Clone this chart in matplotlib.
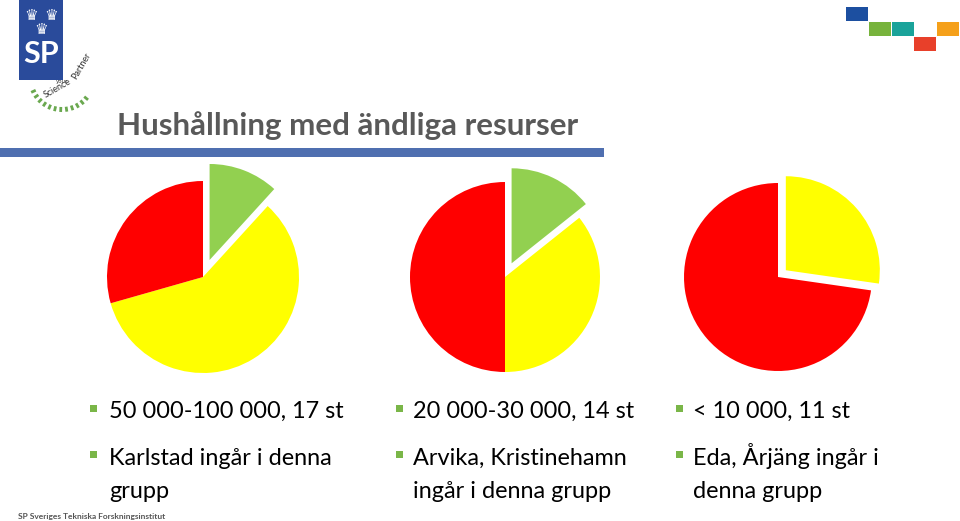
import numpy as np
import matplotlib.pyplot as plt
from matplotlib.patches import Rectangle

# --- data (antal kommuner per färg) ---
labels = ["Grön", "Gul", "Röd"]
group_big = [2, 10, 5]      # 50 000-100 000, 17 st
group_mid = [2, 5, 7]       # 20 000-30 000, 14 st
group_small = [0, 3, 8]     # < 10 000, 11 st
colors = ["#92d050", "#ffff00", "#ff0000"]

bullets = [
    ["50 000-100 000, 17 st", "Karlstad ingår i denna\ngrupp"],
    ["20 000-30 000, 14 st", "Arvika, Kristinehamn\ningår i denna grupp"],
    ["< 10 000, 11 st", "Eda, Årjäng ingår i\ndenna grupp"],
]

W, H = 960, 521
fig = plt.figure(figsize=(W / 100, H / 100), dpi=100)
fig.patch.set_facecolor("white")

# background axes in pixel coordinates (y down)
bg = fig.add_axes([0, 0, 1, 1])
bg.set_xlim(0, W)
bg.set_ylim(H, 0)
bg.axis("off")

# --- title + bar ---
bg.text(117, 126, "Hushållning med ändliga resurser", fontsize=22.6,
        fontweight="bold", color="#595959", family="Lato", va="center")
bg.add_patch(Rectangle((0, 148), 604, 9, color="#4f6fb0", lw=0))

# --- logo ---
bg.add_patch(Rectangle((19, 0), 44, 80, color="#2a4b9b", lw=0))
for cx, cy in [(31, 15), (51, 15), (41, 29)]:
    bg.text(cx, cy, "♛", color="white", fontsize=11, ha="center", va="center",
            family="DejaVu Sans")
bg.text(41, 54, "SP", color="white", fontsize=22, fontweight="bold",
        ha="center", va="center", family="Lato")
bg.text(62, 82, "your", fontsize=4, color="#333333", ha="center", va="center")
bg.text(57, 88, "Science", fontsize=6.5, color="#333333", rotation=30,
        ha="center", va="center", family="Lato")
bg.text(81, 66, "Partner", fontsize=6.5, color="#333333", rotation=60,
        ha="center", va="center", family="Lato")
ang = np.linspace(np.radians(205), np.radians(320), 12)
for a in ang:
    x0, y0 = 62 + 29 * np.cos(a), 78 - 29 * np.sin(a)
    x1, y1 = 62 + 34 * np.cos(a), 78 - 34 * np.sin(a)
    bg.plot([x0, x1], [y0, y1], color="#6aa84f", lw=2, solid_capstyle="butt")

# --- top-right squares ---
for x, y, c in [(846, 7, "#1c4fa0"), (869, 22, "#77b33c"), (892, 22, "#1aa39a"),
                (914, 37, "#e8402a"), (937, 22, "#f5a01a")]:
    bg.add_patch(Rectangle((x, y), 22, 14, color=c, lw=0))

# --- pies ---
pies = [
    (group_big, (203, 277), 96, [0.19, 0, 0]),
    (group_mid, (505, 277), 95, [0.16, 0, 0]),
    (group_small[1:], (778, 277), 94, [0.11, 0]),
]
for values, (cx, cy), r, explode in pies:
    ax = fig.add_axes([(cx - 1.25 * r) / W, (H - cy - 1.25 * r) / H,
                       2.5 * r / W, 2.5 * r / H])
    cols = colors if len(values) == 3 else colors[1:]
    ax.pie(values, colors=cols, startangle=90, counterclock=False,
           explode=explode, wedgeprops=dict(linewidth=0))
    ax.set_xlim(-1.25, 1.25)
    ax.set_ylim(-1.25, 1.25)

# --- bullet text ---
fs = 16.9
cols_x = [(90, 109), (396, 413), (676, 693)]
for (bx, tx), items in zip(cols_x, bullets):
    bg.add_patch(Rectangle((bx, 405), 7, 7, color="#7ab648", lw=0))
    bg.text(tx, 418, items[0], fontsize=fs, family="Lato", color="black",
            va="baseline")
    bg.add_patch(Rectangle((bx, 451), 7, 7, color="#7ab648", lw=0))
    first, second = items[1].split("\n")
    bg.text(tx, 465, first, fontsize=fs, family="Lato", color="black",
            va="baseline")
    bg.text(tx, 498, second, fontsize=fs, family="Lato", color="black",
            va="baseline")

# footer
bg.text(18, 516, "SP Sveriges Tekniska Forskningsinstitut", fontsize=6,
        fontweight="bold", color="#555555", family="Lato", va="center")

fig.savefig("out.png", dpi=100)
